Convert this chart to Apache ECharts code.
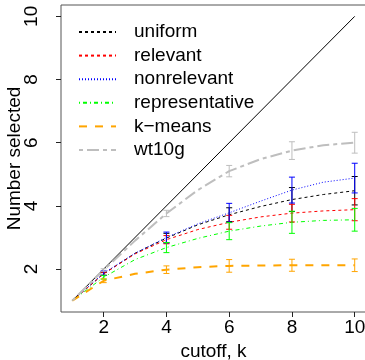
<!DOCTYPE html>
<html><head><meta charset="utf-8">
<script src="https://cdn.jsdelivr.net/npm/echarts@6/dist/echarts.min.js"></script>
<style>html,body{margin:0;padding:0;background:#fff}#c{width:365px;height:360px}</style>
</head><body><div id="c"></div>
<script>
const ks = [1,2,3,4,5,6,7,8,9,10];
const uniform        = [1,1.85,2.5,2.98,3.4,3.72,3.98,4.2,4.36,4.48];
const relevant       = [1,1.85,2.48,2.93,3.25,3.48,3.65,3.77,3.84,3.88];
const nonrelevant    = [1,1.87,2.5,3.0,3.43,3.78,4.15,4.5,4.75,4.88];
const representative = [1,1.74,2.3,2.68,2.97,3.2,3.36,3.48,3.54,3.56];
const kmeans         = [1,1.63,1.85,1.98,2.06,2.1,2.11,2.12,2.12,2.12];
const wt10g          = [1,1.97,2.9,3.76,4.5,5.1,5.48,5.75,5.92,6.0];
const diagonal       = [1,10];

const errK = [2,4,6,8,10];
const uniformErr        = [0.05,0.15,0.22,0.38,0.45];
const relevantErr       = [0.05,0.13,0.22,0.28,0.35];
const nonrelevantErr    = [0.07,0.17,0.30,0.41,0.47];
const representativeErr = [0.06,0.16,0.27,0.35,0.36];
const kmeansErr         = [0.06,0.12,0.20,0.19,0.20];
const wt10gErr          = [0.04,0.10,0.18,0.28,0.33];

const tickValues = [2,4,6,8,10];
const xTitle = 'cutoff, k';
const yTitle = 'Number selected';

const FONT = '"Liberation Sans", Arial, sans-serif';
const defs = [
  {name:'uniform', vals:uniform, err:uniformErr, color:'#000000', width:1, dash:[3,3]},
  {name:'relevant', vals:relevant, err:relevantErr, color:'#ff0000', width:1, dash:[3,3]},
  {name:'nonrelevant', vals:nonrelevant, err:nonrelevantErr, color:'#0000ff', width:1, dash:[1,2]},
  {name:'representative', vals:representative, err:representativeErr, color:'#00ff00', width:1, dash:[1,3,4,3]},
  {name:'k\u2212means', vals:kmeans, err:kmeansErr, color:'#ffa500', width:2, dash:[8,8]},
  {name:'wt10g', vals:wt10g, err:wt10gErr, color:'#bebebe', width:2, dash:[4,4,12,4]}
];

function errRender(color){
  return function(params, api){
    const x = api.value(0), lo = api.value(1), hi = api.value(2);
    const a = api.coord([x, lo]), b = api.coord([x, hi]);
    const w = 3;
    const st = {stroke: color, lineWidth: 1};
    return {type:'group', children:[
      {type:'line', shape:{x1:a[0], y1:a[1], x2:b[0], y2:b[1]}, style:st},
      {type:'line', shape:{x1:a[0]-w, y1:a[1], x2:a[0]+w, y2:a[1]}, style:st},
      {type:'line', shape:{x1:b[0]-w, y1:b[1], x2:b[0]+w, y2:b[1]}, style:st}
    ]};
  };
}

const series = [{
  type:'line', name:'diag', data: diagonal.map(v=>[v,v]), symbol:'none', silent:true,
  lineStyle:{color:'#000', width:1}, itemStyle:{color:'#000'}, z:1
}];
defs.forEach(d=>{
  series.push({type:'line', name:d.name, data: ks.map((k,i)=>[k, d.vals[i]]), symbol:'none', showSymbol:false,
    smooth:false, color:d.color, itemStyle:{color:d.color},
    lineStyle:{color:d.color, width:d.width, type:d.dash}, z:2});
});
defs.forEach(d=>{
  series.push({type:'custom', name:d.name+'_err', renderItem: errRender(d.color),
    data: errK.map((k,i)=>{ const c = d.vals[ks.indexOf(k)]; return [k, c-d.err[i], c+d.err[i]]; }),
    encode:{x:0, y:[1,2]}, z:3, silent:true});
});

const chart = echarts.init(document.getElementById('c'), null, {renderer:'canvas'});
chart.setOption({
  animation:false,
  backgroundColor:'#fff',
  textStyle:{fontFamily:FONT},
  grid:{left:61, top:5, right:-1, bottom:48, containLabel:false, outerBoundsMode:'none',
        show:true, borderColor:'#555', borderWidth:1, backgroundColor:'transparent'},
  legend:{
    data: defs.map(d=>d.name), orient:'vertical', left:78, top:22, padding:0,
    itemWidth:37, itemHeight:14, itemGap:3.6,
    itemStyle:{opacity:0, borderWidth:0},
    textStyle:{fontFamily:FONT, fontSize:19, color:'#000', lineHeight:20, padding:[0,0,0,13]},
    selectedMode:false
  },
  xAxis:{
    type:'value', min:0.64, max:10.36,
    axisLine:{show:false}, splitLine:{show:false},
    axisTick:{show:true, inside:false, length:5, customValues:tickValues, lineStyle:{color:'#222'}},
    axisLabel:{customValues:tickValues, fontSize:19, color:'#000', fontFamily:FONT, margin:6},
    name:xTitle, nameLocation:'middle', nameGap:30, nameMoveOverlap:false,
    nameTextStyle:{fontSize:19, color:'#000', fontFamily:FONT}
  },
  yAxis:{
    type:'value', min:0.64, max:10.36,
    axisLine:{show:false}, splitLine:{show:false},
    axisTick:{show:true, inside:false, length:5, customValues:tickValues, lineStyle:{color:'#222'}},
    axisLabel:{customValues:tickValues, fontSize:19, color:'#000', fontFamily:FONT, margin:20, rotate:90},
    name:yTitle, nameLocation:'middle', nameGap:37, nameMoveOverlap:false,
    nameTextStyle:{fontSize:19, color:'#000', fontFamily:FONT}
  },
  series: series
});
</script></body></html>
